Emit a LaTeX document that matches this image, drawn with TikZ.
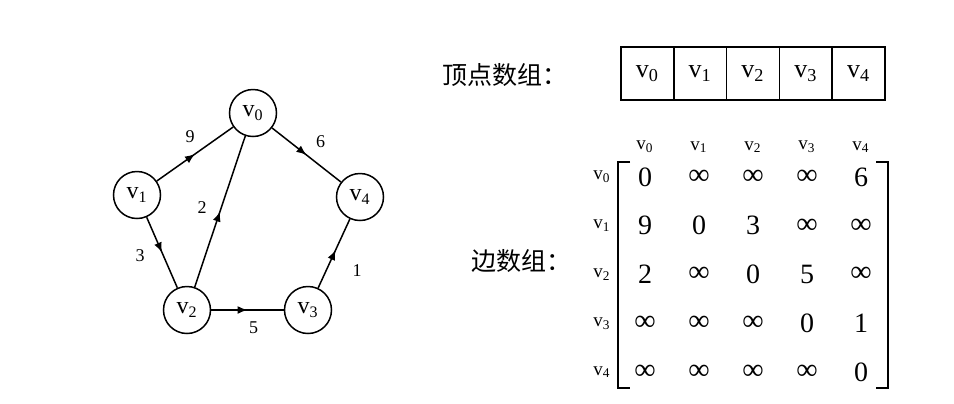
\documentclass[tikz,border=0pt]{standalone}
\usepackage{fontspec}
\setmainfont{Liberation Serif}
\newfontfamily\cjk{Noto Sans CJK SC}
\usetikzlibrary{arrows.meta,decorations.markings}
\newcommand{\vx}[1]{v\textsubscript{#1}}
\newcommand{\oo}{{\fontsize{15}{15}\selectfont ∞}}
\tikzset{
  vertex/.style={circle,draw=black,line width=0.75pt,minimum size=23.5pt,inner sep=0pt,
                 font=\fontsize{12}{12}\selectfont},
  arc/.style={line width=0.75pt,postaction={decorate},
              decoration={markings,mark=at position #1 with {\arrow{Latex[length=5pt,width=4pt]}}}},
  arc/.default=0.5,
  weight/.style={font=\fontsize{9}{9}\selectfont,inner sep=0pt},
  cell/.style={draw=black,line width=0.75pt,minimum width=26.4pt,minimum height=26.5pt,
               inner sep=0pt,font=\fontsize{13}{13}\selectfont},
  entry/.style={font=\fontsize{14}{14}\selectfont,inner sep=0pt},
  idx/.style={font=\fontsize{9.5}{9.5}\selectfont,inner sep=0pt},
  caption/.style={font=\cjk\fontsize{12.5}{12.5}\selectfont},
  bracket/.style={black,line width=0.75pt},
}
\begin{document}
\begin{tikzpicture}[x=0.5pt,y=-0.5pt]
  \path[use as bounding box] (0,0) rectangle (954,403);

  % graph
  \node[vertex] (v0) at (253,113) {\vx{0}};
  \node[vertex] (v1) at (137,195) {\vx{1}};
  \node[vertex] (v2) at (187,310) {\vx{2}};
  \node[vertex] (v3) at (308,310) {\vx{3}};
  \node[vertex] (v4) at (360,197) {\vx{4}};
  \draw[arc] (v1) -- node[weight,xshift=-2.5pt,yshift=8.5pt] {9} (v0);
  \draw[arc] (v0) -- node[weight,xshift=7pt,yshift=6.5pt] {6} (v4);
  \draw[arc] (v2) -- node[weight,xshift=-9pt,yshift=2pt] {2} (v0);
  \draw[arc] (v1) -- node[weight,xshift=-11pt,yshift=-1.5pt] {3} (v2);
  \draw[arc] (v2) -- node[weight,xshift=3pt,yshift=-9pt] {5} (v3);
  \draw[arc=0.55] (v3) -- node[weight,xshift=11.5pt,yshift=-8.5pt] {1} (v4);

  % vertex array
  \node[caption] (vcap) at (505,75) {顶点数组：};
  \foreach \k in {0,...,4}
    \node[cell] (cell\k) at ({647.4+52.8*\k},73.5) {\vx{\k}};

  % edge array
  \node[caption] (ecap) at (521,261) {边数组：};
  \foreach \k in {0,...,4} {
    \node[idx] (col\k) at ({645+54*\k},147) {\vx{\k}};
    \node[idx] (rowlab\k) at (602,{177+48.8*\k}) {\vx{\k}};
  }
  \foreach \r [count=\i from 0] in {{0,\oo,\oo,\oo,6},{9,0,3,\oo,\oo},{2,\oo,0,5,\oo},
                                    {\oo,\oo,\oo,0,1},{\oo,\oo,\oo,\oo,0}}
    \foreach \v [count=\j from 0] in \r
      \node[entry] (m\i\j) at ({645+54*\j},{177+48.8*\i}) {\v};
  \draw[bracket] (630,162) -- (618,162) -- (618,388) -- (630,388);
  \draw[bracket] (876,162) -- (888,162) -- (888,388) -- (876,388);
\end{tikzpicture}
\end{document}
